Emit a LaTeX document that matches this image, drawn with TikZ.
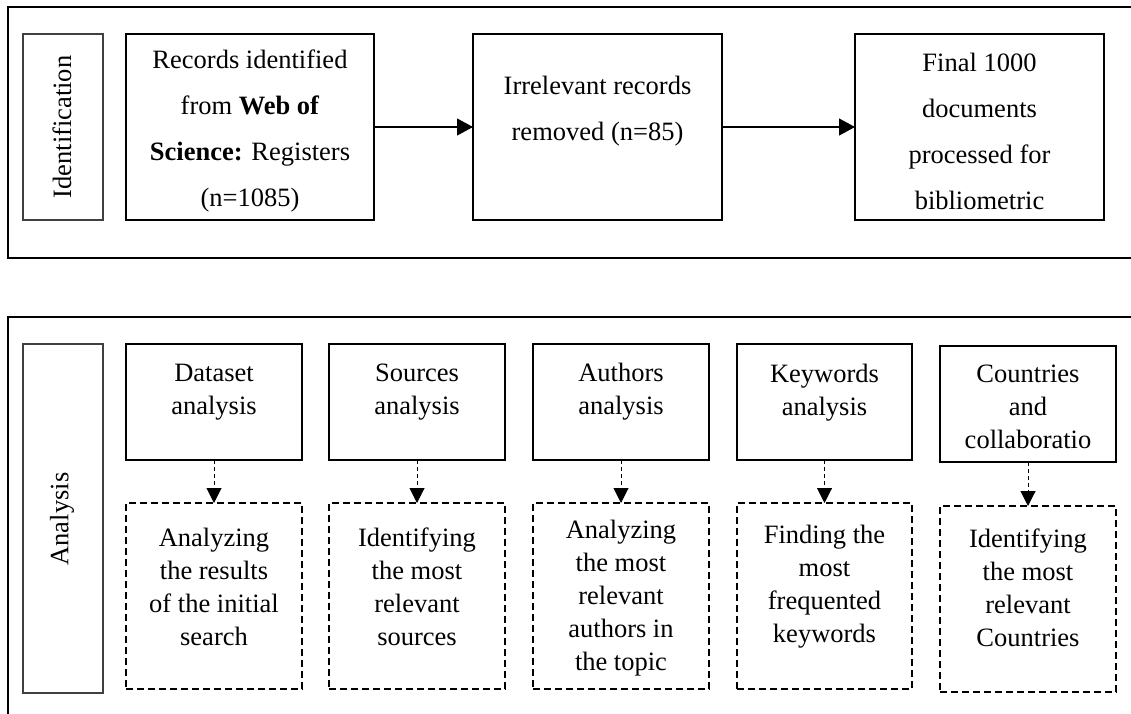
\documentclass[tikz,border=0pt]{standalone}
\usepackage{fontspec}
\setmainfont{Liberation Serif}
\usetikzlibrary{arrows.meta}
\begin{document}
\begin{tikzpicture}[x=1pt,y=-1pt,
  frame/.style={line width=1.5pt},
  solidbox/.style={draw, line width=1.5pt, inner sep=0pt, outer sep=0pt, anchor=north west},
  dashbox/.style={draw, line width=1.5pt, dash pattern=on 7pt off 4pt, inner sep=0pt, outer sep=0pt, anchor=north west},
  labelbox/.style={draw=black!75, line width=1.1pt, inner sep=0pt, outer sep=0pt, anchor=north west},
  bigtxt/.style={align=center, font=\fontsize{26.5}{46}\selectfont, inner sep=0pt},
  smalltxt/.style={align=center, font=\fontsize{26.5}{33}\selectfont, inner sep=0pt},
  vtxt/.style={rotate=90, font=\fontsize{26.5}{30}\selectfont, inner sep=0pt},
  flow/.style={-{Triangle[length=16pt,width=17pt]}, line width=1.1pt},
  dflow/.style={-{Triangle[length=15pt,width=15pt]}, line width=1pt, dash pattern=on 4pt off 3pt}
]
\useasboundingbox (0,0) rectangle (1131,713);

% outer frames
\draw[frame] (1140,7) -- (8,7) -- (8,258) -- (1140,258);
\draw[frame] (1140,317) -- (8,317) -- (8,720);

% ---------- Identification ----------
\node[labelbox, minimum width=80pt, minimum height=186pt] (idbox) at (23,34) {};
\node[vtxt] (idtxt) at (62,127) {Identification};

\node[solidbox, minimum width=248pt, minimum height=186pt] (b1) at (126,34) {};
\node[solidbox, minimum width=249pt, minimum height=186pt] (b2) at (473,34) {};
\node[solidbox, minimum width=249pt, minimum height=186pt] (b3) at (855,34) {};

\node[bigtxt] (t1) at (250,131) {Records identified\\from \textbf{Web of}\\\textbf{Science:} Registers\\(n=1085)};
\node[bigtxt] (t2) at (597.5,111) {Irrelevant records\\removed (n=85)};
\node[bigtxt] (t3) at (979.5,131) {Final 1000\\documents\\processed for\\bibliometric};

\draw[flow] (b1.east) -- (b2.west);
\draw[flow] (b2.east) -- (b3.west);

% ---------- Analysis ----------
\node[labelbox, minimum width=80pt, minimum height=349pt] (anbox) at (23,344) {};
\node[vtxt] (antxt) at (62,519) {Analysis};

\node[solidbox, minimum width=176pt, minimum height=116pt] (a1) at (126,344) {};
\node[solidbox, minimum width=176pt, minimum height=116pt] (a2) at (329,344) {};
\node[solidbox, minimum width=176pt, minimum height=116pt] (a3) at (533,344) {};
\node[solidbox, minimum width=175pt, minimum height=116pt] (a4) at (737,344) {};
\node[solidbox, minimum width=176pt, minimum height=116pt] (a5) at (940,346) {};

\node[dashbox, minimum width=176pt, minimum height=186pt] (d1) at (126,503) {};
\node[dashbox, minimum width=176pt, minimum height=186pt] (d2) at (329,503) {};
\node[dashbox, minimum width=176pt, minimum height=186pt] (d3) at (533,503) {};
\node[dashbox, minimum width=175pt, minimum height=186pt] (d4) at (737,503) {};
\node[dashbox, minimum width=176pt, minimum height=186pt] (d5) at (940,506) {};

\node[smalltxt] (ta1) at (214,392) {Dataset\\analysis};
\node[smalltxt] (ta2) at (417,392) {Sources\\analysis};
\node[smalltxt] (ta3) at (621,392) {Authors\\analysis};
\node[smalltxt] (ta4) at (824.5,393) {Keywords\\analysis};
\node[smalltxt] (ta5) at (1028,407) {Countries\\and\\collaboratio};

\node[smalltxt] (td1) at (214,587) {Analyzing\\the results\\of the initial\\search};
\node[smalltxt] (td2) at (417,587) {Identifying\\the most\\relevant\\sources};
\node[smalltxt] (td3) at (621,598) {Analyzing\\the most\\relevant\\authors in\\the topic};
\node[smalltxt] (td4) at (824.5,587) {Finding the\\most\\frequented\\keywords};
\node[smalltxt] (td5) at (1028,588) {Identifying\\the most\\relevant\\Countries};

\draw[dflow] (a1.south) -- (d1.north);
\draw[dflow] (a2.south) -- (d2.north);
\draw[dflow] (a3.south) -- (d3.north);
\draw[dflow] (a4.south) -- (d4.north);
\draw[dflow] (a5.south) -- (d5.north);
\end{tikzpicture}
\end{document}
